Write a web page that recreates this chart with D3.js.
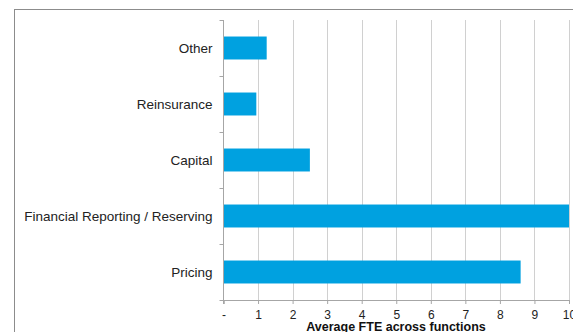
<!DOCTYPE html>
<html>
<head>
<meta charset="utf-8">
<script src="https://cdn.jsdelivr.net/npm/d3@7"></script>
<style>
  html, body { margin: 0; padding: 0; background: #fff; }
  svg { display: block; font-family: "Liberation Sans", Arial, sans-serif; }
</style>
</head>
<body>
<svg id="chart" width="573" height="332"></svg>
<script>
// Functions, listed top to bottom as drawn
const categories = ["Other", "Reinsurance", "Capital", "Financial Reporting / Reserving", "Pricing"];
const fteValues = [1.25, 0.95, 2.5, 10, 8.6];
const tickValues = [0, 1, 2, 3, 4, 5, 6, 7, 8, 9, 10];
const tickLabels = ["-", "1", "2", "3", "4", "5", "6", "7", "8", "9", "10"];
const axisTitle = "Average FTE across functions";

const svg = d3.select("#chart");
const margin = { left: 223.5, right: 4, top: 20, bottom: 32 };
const W = 573, H = 332;

// outer frame
svg.append("rect")
  .attr("x", 14.5).attr("y", 9.5)
  .attr("width", 600).attr("height", 400)
  .attr("fill", "none").attr("stroke", "#8c8c8c").attr("stroke-width", 1);

const x = d3.scaleLinear().domain([0, 10]).range([margin.left, 569]);
const y = d3.scaleBand().domain(categories).range([margin.top, H - margin.bottom]).paddingInner(0.59).paddingOuter(0.295);

// vertical gridlines
svg.append("g").selectAll("line")
  .data(tickValues.filter(d => d > 0))
  .join("line")
  .attr("x1", d => Math.round(x(d)) + 0.5).attr("x2", d => Math.round(x(d)) + 0.5)
  .attr("y1", margin.top).attr("y2", H - margin.bottom)
  .attr("stroke", "#d0d0d0").attr("stroke-width", 1);

// bars
svg.append("g").selectAll("rect")
  .data(categories.map((c, i) => ({ c, v: fteValues[i] })))
  .join("rect")
  .attr("x", x(0))
  .attr("y", d => y(d.c))
  .attr("width", d => x(d.v) - x(0))
  .attr("height", y.bandwidth())
  .attr("fill", "#00a1e0");

// x axis
const xAxis = svg.append("g")
  .attr("transform", `translate(0,${H - margin.bottom})`)
  .call(d3.axisBottom(x).tickValues(tickValues).tickFormat((d, i) => tickLabels[i]).tickSize(4).tickPadding(6));
xAxis.select(".domain").attr("stroke", "#a6a6a6");
xAxis.selectAll(".tick line").attr("stroke", "#a6a6a6");
xAxis.selectAll("text").attr("fill", "#222").style("font-size", "12px");

// y axis with tick marks at category boundaries
const boundaries = d3.range(categories.length + 1).map(i => margin.top + i * y.step());
const yg = svg.append("g");
yg.append("line")
  .attr("x1", x(0)).attr("x2", x(0))
  .attr("y1", margin.top).attr("y2", H - margin.bottom + 4)
  .attr("stroke", "#a6a6a6");
yg.selectAll("line.b").data(boundaries).join("line").attr("class", "b")
  .attr("x1", x(0) - 4).attr("x2", x(0))
  .attr("y1", d => Math.round(d) + 0.5).attr("y2", d => Math.round(d) + 0.5)
  .attr("stroke", "#a6a6a6");
yg.selectAll("text").data(categories).join("text")
  .attr("x", x(0) - 11)
  .attr("y", d => y(d) + y.bandwidth() / 2)
  .attr("dy", "0.35em")
  .attr("text-anchor", "end")
  .attr("fill", "#222")
  .style("font-size", "13.5px")
  .text(d => d);

// axis title
svg.append("text")
  .attr("x", 396)
  .attr("y", 331)
  .attr("text-anchor", "middle")
  .attr("font-weight", "bold")
  .attr("fill", "#111")
  .style("font-size", "12.5px")
  .text(axisTitle);
</script>
</body>
</html>
